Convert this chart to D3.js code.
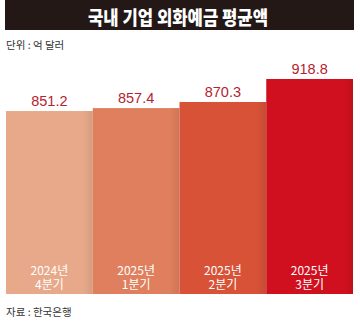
<!DOCTYPE html>
<html>
<head>
<meta charset="utf-8">
<script src="https://cdn.jsdelivr.net/npm/d3@7"></script>
<style>
  html, body { margin: 0; padding: 0; background: #ffffff; }
  svg { display: block; }
</style>
</head>
<body>
<div id="chart"></div>
<script>
// Quarterly average corporate foreign-currency deposits (100 million USD)
const categories = ["2024년|4분기", "2025년|1분기", "2025년|2분기", "2025년|3분기"];
const values = [851.2, 857.4, 870.3, 918.8];
const barColors = ["#e8a98a", "#e07f5e", "#d75236", "#d0101e"];
const title = "국내 기업 외화예금 평균액";
const unitLabel = "단위 : 억 달러";
const sourceLabel = "자료 : 한국은행";

const W = 360, H = 324;
const margin = { left: 6, right: 7, top: 79, bottom: 30 };
const baseY = H - margin.bottom;

const svg = d3.select("#chart").append("svg")
  .attr("width", W).attr("height", H);

const defs = svg.append("defs");
// soft shade along the right edge of each bar
const shade = defs.append("linearGradient").attr("id", "edgeShade")
  .attr("x1", 0).attr("x2", 1).attr("y1", 0).attr("y2", 0);
shade.append("stop").attr("offset", 0).attr("stop-color", "#000").attr("stop-opacity", 0);
shade.append("stop").attr("offset", 1).attr("stop-color", "#000").attr("stop-opacity", 0.08);

// Title bar
svg.append("rect")
  .attr("x", 5).attr("y", 0).attr("width", 349).attr("height", 30)
  .attr("fill", "#231815");
svg.append("text")
  .attr("x", 178).attr("y", 16)
  .attr("text-anchor", "middle").attr("dominant-baseline", "central")
  .attr("fill", "#ffffff")
  .attr("textLength", 180).attr("lengthAdjust", "spacingAndGlyphs")
  .style("font-family", "'Noto Sans CJK KR', sans-serif")
  .style("font-weight", 900).style("font-size", "19px")
  .text(title);

svg.append("text")
  .attr("x", 6).attr("y", 44)
  .attr("dominant-baseline", "central")
  .attr("fill", "#333")
  .style("font-family", "'Noto Sans CJK KR', sans-serif")
  .style("font-size", "10.5px")
  .text(unitLabel);

const x = d3.scaleBand()
  .domain(categories)
  .range([margin.left, W - margin.right])
  .padding(0);

const y = d3.scaleLinear()
  .domain([465, d3.max(values)])
  .range([baseY, margin.top]);

const bars = svg.append("g").selectAll("g")
  .data(categories.map((c, i) => ({ c, v: values[i], color: barColors[i] })))
  .join("g");

bars.append("rect")
  .attr("x", d => x(d.c))
  .attr("y", d => y(d.v))
  .attr("width", x.bandwidth())
  .attr("height", d => baseY - y(d.v))
  .attr("fill", d => d.color);

bars.append("rect")
  .attr("x", d => x(d.c) + x.bandwidth() - 10)
  .attr("y", d => y(d.v))
  .attr("width", 10)
  .attr("height", d => baseY - y(d.v))
  .attr("fill", "url(#edgeShade)");

bars.append("text")
  .attr("x", d => x(d.c) + x.bandwidth() / 2)
  .attr("y", d => y(d.v) - 10)
  .attr("text-anchor", "middle").attr("dominant-baseline", "central")
  .attr("fill", "#b5232f")
  .style("font-family", "'Liberation Sans Narrow', 'Liberation Sans', sans-serif")
  .style("font-size", "14.5px")
  .text(d => d.v.toFixed(1));

// two-line category label inside each bar, one text element per line
bars.each(function(d) {
  const lines = d.c.split("|");
  lines.forEach((ln, k) => {
    d3.select(this).append("text")
      .attr("x", x(d.c) + x.bandwidth() / 2)
      .attr("y", 269 + k * 14.5)
      .attr("text-anchor", "middle").attr("dominant-baseline", "central")
      .attr("fill", "#ffffff")
      .style("font-family", "'Liberation Sans Narrow', 'Noto Sans CJK KR', sans-serif")
      .style("font-size", "12px")
      .text(ln);
  });
});

svg.append("text")
  .attr("x", 6).attr("y", 311)
  .attr("dominant-baseline", "central")
  .attr("fill", "#333")
  .style("font-family", "'Noto Sans CJK KR', sans-serif")
  .style("font-size", "10.5px")
  .text(sourceLabel);
</script>
</body>
</html>
